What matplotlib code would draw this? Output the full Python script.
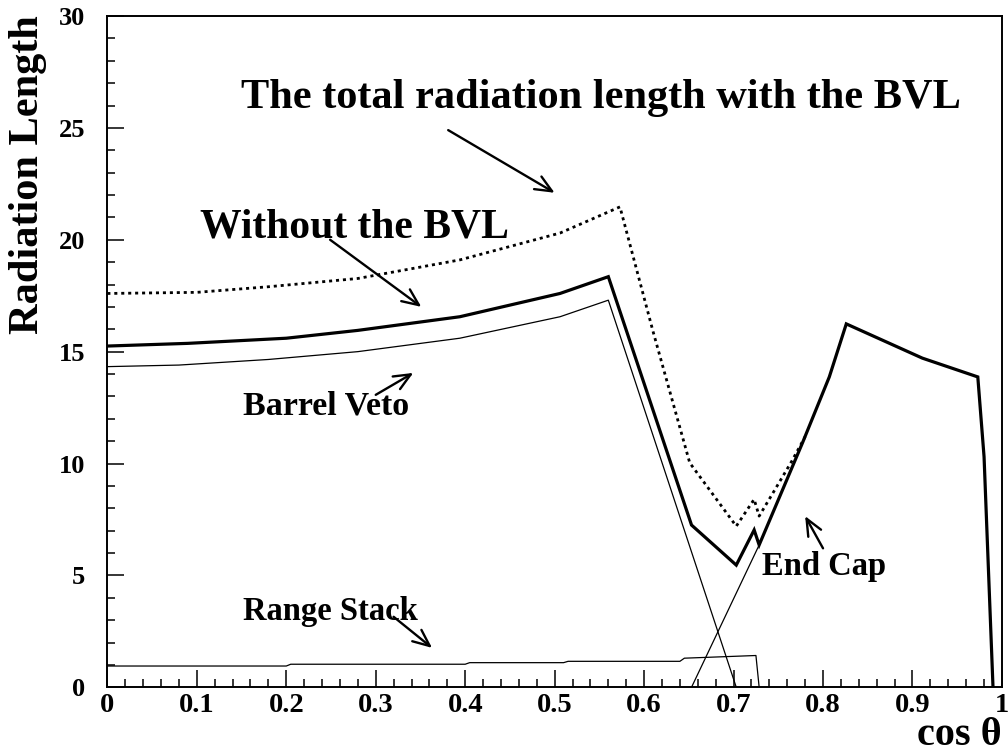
import numpy as np
import matplotlib

matplotlib.use('Agg')
import matplotlib.pyplot as plt
from matplotlib.ticker import MultipleLocator

# values (cos theta, radiation length)
cos_without = [0, 0.09, 0.2, 0.28, 0.394, 0.506, 0.56, 0.653, 0.703, 0.723, 0.7286,
               0.777, 0.807, 0.826, 0.911, 0.973, 0.98, 0.99]
rl_without = [15.25, 15.37, 15.6, 15.95, 16.56, 17.6, 18.35, 7.25, 5.46, 7.03, 6.36,
              10.92, 13.87, 16.24, 14.71, 13.87, 10.3, 0]

cos_with = [0, 0.1, 0.18, 0.28, 0.394, 0.506, 0.573, 0.61, 0.651, 0.703, 0.723, 0.7286,
            0.745, 0.765, 0.78]
rl_with = [17.6, 17.65, 17.9, 18.27, 19.1, 20.3, 21.47, 15.9, 10.03, 7.2, 8.4, 7.65,
           8.75, 10.1, 11.2]

cos_barrel = [0, 0.08, 0.18, 0.28, 0.394, 0.506, 0.56, 0.703]
rl_barrel = [14.33, 14.4, 14.65, 15.0, 15.6, 16.56, 17.3, 0]

cos_range = [0, 0.2, 0.205, 0.4, 0.405, 0.51, 0.515, 0.64, 0.645, 0.725, 0.7286]
rl_range = [0.95, 0.95, 1.03, 1.03, 1.1, 1.1, 1.16, 1.16, 1.3, 1.42, 0]

cos_endcap = [0.653, 0.7286]
rl_endcap = [0, 6.36]

xtick_labels = ['0', '0.1', '0.2', '0.3', '0.4', '0.5', '0.6', '0.7', '0.8', '0.9', '1']
ytick_labels = ['0', '5', '10', '15', '20', '25', '30']

plt.rcParams['font.family'] = ['Liberation Serif', 'DejaVu Serif']
plt.rcParams['font.weight'] = 'bold'

fig = plt.figure(figsize=(10.08, 7.55), dpi=100)
ax = fig.add_axes([0.1065, 0.0897, 0.8875, 0.8891])

ax.plot(cos_with, rl_with, color='black', lw=2.0, linestyle=(0, (1.1, 1.4)))
ax.plot(cos_barrel, rl_barrel, color='black', lw=0.9)
ax.plot(cos_range, rl_range, color='black', lw=0.9)
ax.plot(cos_endcap, rl_endcap, color='black', lw=0.9)
ax.plot(cos_without, rl_without, color='black', lw=2.3, solid_joinstyle='miter')

ax.set_xlim(0, 1)
ax.set_ylim(0, 30)
ax.set_xticks(np.arange(0, 1.01, 0.1))
ax.set_xticklabels(xtick_labels)
ax.set_yticks([0, 5, 10, 15, 20, 25, 30])
ax.set_yticklabels(ytick_labels)
ax.xaxis.set_minor_locator(MultipleLocator(0.02))
ax.yaxis.set_minor_locator(MultipleLocator(1))

ax.tick_params(which='both', direction='in', width=1.1, top=False, right=False)
ax.tick_params(which='major', length=12.5)
ax.tick_params(which='minor', length=6)
ax.tick_params(axis='x', which='major', labelsize=20.5, pad=4)
ax.tick_params(axis='y', which='major', labelsize=19, pad=16)
for s in ax.spines.values():
    s.set_linewidth(1.4)

fig.text(0.028, 0.98, 'Radiation Length', rotation=90, ha='center', va='top',
         fontsize=30.5, fontweight='bold')
fig.text(0.994, 0.001, 'cos θ', ha='right', va='bottom', fontsize=29, fontweight='bold')

ax.text(0.149, 25.9, 'The total radiation length with the BVL', fontsize=30.5, fontweight='bold')
ax.text(0.104, 20.08, 'Without the BVL', fontsize=30, fontweight='bold')
ax.text(0.152, 12.17, 'Barrel Veto', fontsize=24.5, fontweight='bold')
ax.text(0.152, 3.0, 'Range Stack', fontsize=23.5, fontweight='bold')
ax.text(0.732, 5.02, 'End Cap', fontsize=23.5, fontweight='bold')

arrows = [((0.381, 24.9), (0.5, 22.1)),
          ((0.249, 20.0), (0.351, 17.0)),
          ((0.30, 13.07), (0.342, 14.05)),
          ((0.32, 3.15), (0.363, 1.76)),
          ((0.80, 6.21), (0.78, 7.65))]
for tail, head in arrows:
    ax.annotate('', xy=head, xytext=tail,
                arrowprops=dict(arrowstyle='->,head_length=0.8,head_width=0.35',
                                mutation_scale=15, lw=1.7, color='black',
                                shrinkA=0, shrinkB=0))

fig.savefig('out.png', dpi=100)
